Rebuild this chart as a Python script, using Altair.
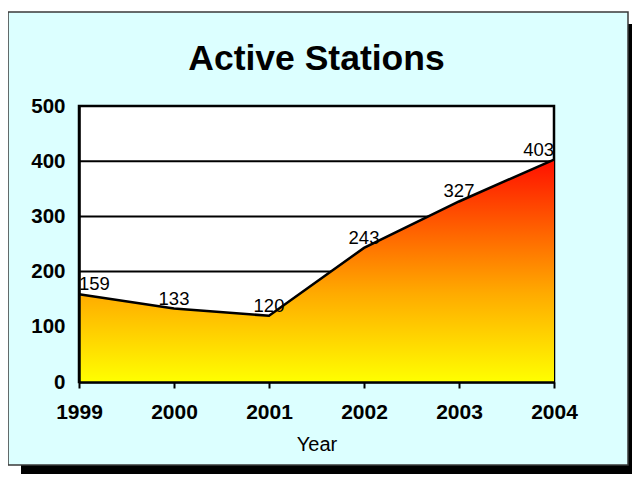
import altair as alt
import pandas as pd

# ---- data ----
years = [1999, 2000, 2001, 2002, 2003, 2004]
stations = [159, 133, 120, 243, 327, 403]
y_ticks = [0, 100, 200, 300, 400, 500]
grid_values = [100, 200, 300, 400]

df = pd.DataFrame({"Year": years, "Stations": stations})
grid_df = pd.DataFrame({"v": grid_values})

# ---- layout ----
W, H = 475, 276
FONT = "Liberation Sans"

x_scale = alt.Scale(domain=[1999, 2004], nice=False, zero=False)
y_scale = alt.Scale(domain=[0, 500], nice=False)

one = alt.Data(values=[{"k": 0}])

shadow = alt.Chart(one).mark_rect(fill="black").encode(
    x=alt.value(-58), x2=alt.value(570), y=alt.value(-82), y2=alt.value(385)
)
frame = alt.Chart(one).mark_rect(fill="#DCFFFF", stroke="#3a3a3a", strokeWidth=1.5).encode(
    x=alt.value(-71), x2=alt.value(549), y=alt.value(-94), y2=alt.value(359)
)
plotbg = alt.Chart(one).mark_rect(fill="white", stroke="black", strokeWidth=2.5).encode(
    x=alt.value(0), x2=alt.value(W), y=alt.value(0), y2=alt.value(H)
)

x_axis = alt.Axis(
    values=years, format="d", title="Year", grid=False,
    labelFont=FONT, labelFontSize=21, labelFontWeight="bold", labelColor="black",
    labelFlush=False, labelOverlap=False, labelPadding=13,
    ticks=True, tickSize=6, tickWidth=2, tickColor="black",
    domain=True, domainColor="black", domainWidth=2.5,
    titleFont=FONT, titleFontSize=20, titleFontWeight="normal", titleColor="black",
    titlePadding=12, zindex=1,
)
y_axis = alt.Axis(
    values=y_ticks, title=None, grid=False,
    labelFont=FONT, labelFontSize=20.5, labelFontWeight="bold", labelColor="black",
    labelPadding=14, ticks=False, domain=True, domainColor="black", domainWidth=2.5,
    zindex=1,
)

grid = alt.Chart(grid_df).mark_rule(color="black", strokeWidth=2).encode(
    y=alt.Y("v:Q", scale=y_scale, axis=y_axis),
    x=alt.value(0),
    x2=alt.value(W),
)

gradient = alt.Gradient(
    gradient="linear",
    stops=[
        alt.GradientStop(color="#FFFF00", offset=0),
        alt.GradientStop(color="#FFAA00", offset=0.4),
        alt.GradientStop(color="#FF1000", offset=1),
    ],
    x1=1, x2=1, y1=1, y2=0,
)

area = alt.Chart(df).mark_area(color=gradient).encode(
    x=alt.X("Year:Q", scale=x_scale, axis=x_axis),
    y=alt.Y("Stations:Q", scale=y_scale, axis=y_axis),
)
line = alt.Chart(df).mark_line(color="black", strokeWidth=2.5).encode(
    x=alt.X("Year:Q", scale=x_scale, axis=x_axis),
    y=alt.Y("Stations:Q", scale=y_scale, axis=y_axis),
)

def labels(align, cond):
    return alt.Chart(df).transform_filter(cond).mark_text(
        align=align, baseline="alphabetic", dy=-4, font=FONT, fontSize=18.5, color="black"
    ).encode(
        x=alt.X("Year:Q", scale=x_scale, axis=x_axis),
        y=alt.Y("Stations:Q", scale=y_scale, axis=y_axis),
        text=alt.Text("Stations:Q"),
    )

lab_left = labels("left", alt.datum.Year == years[0])
lab_right = labels("right", alt.datum.Year == years[-1])
lab_mid = labels("center", (alt.datum.Year != years[0]) & (alt.datum.Year != years[-1]))

chart = alt.layer(
    shadow, frame, plotbg, grid, area, line, lab_left, lab_mid, lab_right
).properties(
    width=W,
    height=H,
    padding={"left": 71, "top": 98, "right": 78, "bottom": 92},
    autosize=alt.AutoSizeParams(type="none"),
    background="white",
    title=alt.TitleParams(
        "Active Stations", font=FONT, fontSize=35.5, fontWeight="bold", color="black",
        anchor="middle", frame="group", baseline="alphabetic", offset=-94,
    ),
).configure_view(stroke=None, fill=None)

chart.save("out.html", embed_options={"renderer": "svg", "actions": False})
